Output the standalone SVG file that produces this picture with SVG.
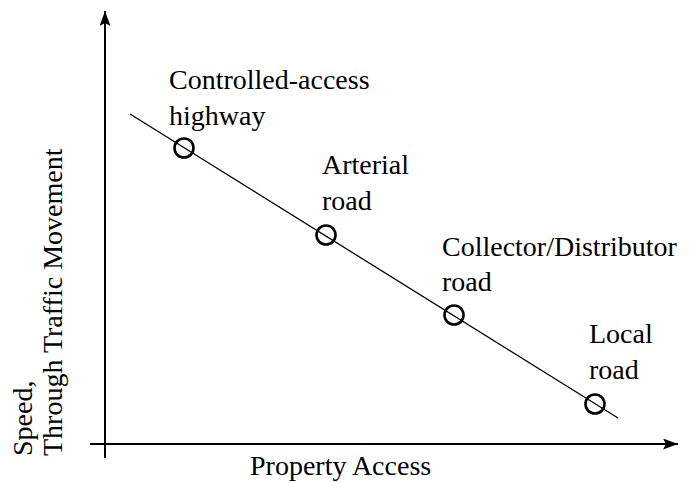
<svg xmlns="http://www.w3.org/2000/svg" width="689" height="483" viewBox="0 0 689 483">
<style>
.axis{stroke:#000;stroke-width:2;fill:none}
.trend{stroke:#000;stroke-width:1.3;fill:none}
.pt{stroke:#000;stroke-width:2.6;fill:none}
</style>
<defs>
<marker id="arr" viewBox="0 0 15 11" refX="15" refY="5.5" markerWidth="15" markerHeight="11" markerUnits="userSpaceOnUse" orient="auto">
<path d="M0,0 L15,5.5 L0,11 L3,5.5 Z" fill="#000"/>
</marker>
</defs>
<g id="connectors">
<line class="axis" x1="105" y1="458" x2="105" y2="11" marker-end="url(#arr)"/>
<line class="axis" x1="90" y1="444" x2="678" y2="444" marker-end="url(#arr)"/>
<line class="trend" x1="130" y1="114" x2="618" y2="418"/>
</g>
<g id="controlled-access">
<circle class="pt" cx="184" cy="148" r="9.5"/>
<text x="169" y="89" font-family="Liberation Serif" font-size="28">Controlled-access</text>
<text x="169" y="125" font-family="Liberation Serif" font-size="28">highway</text>
</g>
<g id="arterial">
<circle class="pt" cx="326" cy="235" r="9.5"/>
<text x="322" y="174" font-family="Liberation Serif" font-size="28">Arterial</text>
<text x="322" y="210" font-family="Liberation Serif" font-size="28">road</text>
</g>
<g id="collector">
<circle class="pt" cx="454" cy="315" r="9.5"/>
<text x="442" y="256" font-family="Liberation Serif" font-size="28">Collector/Distributor</text>
<text x="442" y="291" font-family="Liberation Serif" font-size="28">road</text>
</g>
<g id="local">
<circle class="pt" cx="595" cy="404" r="9.5"/>
<text x="589" y="343" font-family="Liberation Serif" font-size="28">Local</text>
<text x="589" y="379" font-family="Liberation Serif" font-size="28">road</text>
</g>
<g id="x-label">
<text x="250" y="475" font-family="Liberation Serif" font-size="28">Property Access</text>
</g>
<g id="y-label">
<text transform="translate(32,456) rotate(-90)" font-family="Liberation Serif" font-size="28">Speed,</text>
<text transform="translate(62,456) rotate(-90)" font-family="Liberation Serif" font-size="28">Through Traffic Movement</text>
</g>
</svg>
